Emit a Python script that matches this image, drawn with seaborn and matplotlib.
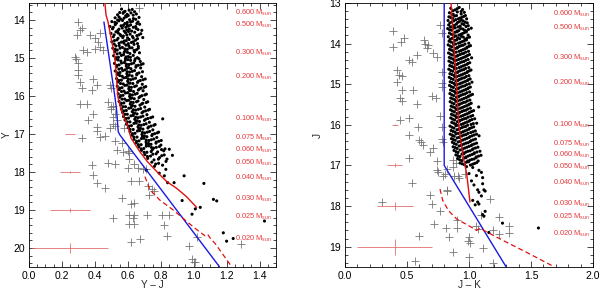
import matplotlib
matplotlib.use("Agg")
import matplotlib.pyplot as plt
import seaborn as sns
import pandas as pd
from matplotlib.ticker import MultipleLocator

sns.set_style("white")
plt.rcParams['font.family'] = ['Liberation Sans', 'DejaVu Sans']
plt.rcParams['mathtext.fontset'] = 'custom'
plt.rcParams['mathtext.rm'] = 'Liberation Sans'
plt.rcParams['mathtext.it'] = 'Liberation Sans'

# ---------------- Left panel (Y vs Y-J) ----------------
yj_dots = [
 (0.562,13.71),(0.608,13.74),(0.641,13.78),(0.583,13.77),(0.627,13.72),
 (0.538,13.86),(0.571,13.82),(0.603,13.88),(0.652,13.84),(0.619,13.81),(0.587,13.89),
 (0.523,13.94),(0.556,13.97),(0.592,13.91),(0.634,13.96),(0.668,13.93),(0.611,13.99),(0.547,13.92),
 (0.503,14.04),(0.531,14.08),(0.568,14.01),(0.597,14.06),(0.629,14.03),(0.655,14.09),(0.582,14.09),(0.546,14.02),
 (0.492,14.17),(0.524,14.12),(0.559,14.15),(0.588,14.19),(0.617,14.13),(0.648,14.17),(0.672,14.11),(0.603,14.16),
 (0.507,14.23),(0.539,14.28),(0.566,14.21),(0.594,14.26),(0.623,14.29),(0.651,14.22),(0.685,14.27),(0.578,14.29),
 (0.498,14.35),(0.528,14.31),(0.553,14.38),(0.586,14.33),(0.614,14.37),(0.642,14.32),(0.667,14.39),(0.604,14.30),
 (0.512,14.44),(0.541,14.48),(0.573,14.42),(0.599,14.47),(0.628,14.43),(0.659,14.49),(0.691,14.46),(0.558,14.41),
 (0.503,14.57),(0.534,14.52),(0.562,14.58),(0.591,14.54),(0.622,14.59),(0.647,14.53),(0.608,14.51),
 (0.517,14.63),(0.548,14.67),(0.577,14.61),(0.606,14.68),(0.638,14.64),(0.664,14.69),(0.589,14.66),
 (0.509,14.74),(0.536,14.79),(0.567,14.72),(0.597,14.77),(0.626,14.73),(0.653,14.78),(0.582,14.76),
 (0.521,14.83),(0.552,14.87),(0.584,14.81),(0.613,14.88),(0.641,14.84),(0.671,14.86),(0.598,14.85),
 (0.514,14.94),(0.543,14.98),(0.574,14.91),(0.603,14.96),(0.633,14.93),(0.658,14.99),(0.589,14.97),
 (0.527,15.03),(0.558,15.08),(0.586,15.01),(0.617,15.06),(0.645,15.02),(0.676,15.09),(0.601,15.04),
 (0.519,15.14),(0.547,15.18),(0.579,15.12),(0.607,15.17),(0.636,15.13),(0.664,15.19),(0.693,15.15),(0.592,15.16),
 (0.531,15.23),(0.562,15.27),(0.591,15.21),(0.619,15.28),(0.649,15.24),(0.678,15.26),(0.605,15.25),
 (0.524,15.34),(0.553,15.38),(0.583,15.31),(0.612,15.37),(0.641,15.33),(0.668,15.39),(0.597,15.36),
 (0.537,15.43),(0.566,15.48),(0.594,15.41),(0.626,15.47),(0.654,15.44),(0.684,15.49),(0.609,15.45),
 (0.532,15.54),(0.561,15.58),(0.589,15.51),(0.618,15.57),(0.647,15.53),(0.676,15.59),(0.706,15.55),(0.603,15.55),
 (0.541,15.63),(0.572,15.68),(0.599,15.61),(0.631,15.67),(0.659,15.64),(0.688,15.69),(0.614,15.66),
 (0.536,15.74),(0.565,15.78),(0.594,15.71),(0.622,15.77),(0.652,15.73),(0.681,15.79),(0.709,15.75),(0.608,15.76),
 (0.548,15.83),(0.577,15.87),(0.606,15.81),(0.635,15.88),(0.664,15.84),(0.693,15.86),(0.619,15.85),
 (0.542,15.94),(0.571,15.98),(0.599,15.91),(0.628,15.97),(0.657,15.93),(0.686,15.99),(0.713,15.95),(0.613,15.96),
 (0.551,16.03),(0.581,16.08),(0.611,16.01),(0.639,16.07),(0.668,16.04),(0.697,16.09),(0.624,16.05),
 (0.547,16.14),(0.576,16.18),(0.604,16.11),(0.633,16.17),(0.662,16.13),(0.691,16.19),(0.721,16.15),(0.618,16.16),
 (0.556,16.23),(0.586,16.28),(0.615,16.21),(0.644,16.27),(0.674,16.24),(0.703,16.29),(0.629,16.25),
 (0.561,16.34),(0.591,16.38),(0.619,16.31),(0.648,16.37),(0.678,16.33),(0.708,16.39),(0.732,16.35),(0.634,16.36),
 (0.568,16.43),(0.597,16.48),(0.627,16.41),(0.656,16.47),(0.686,16.44),(0.716,16.49),(0.641,16.45),
 (0.574,16.54),(0.604,16.58),(0.633,16.51),(0.663,16.57),(0.692,16.53),(0.722,16.59),(0.751,16.55),(0.648,16.56),(0.812,16.60),
 (0.583,16.63),(0.613,16.68),(0.642,16.61),(0.671,16.67),(0.701,16.64),(0.731,16.69),(0.657,16.65),
 (0.592,16.74),(0.622,16.78),(0.651,16.71),(0.681,16.77),(0.711,16.73),(0.741,16.79),(0.766,16.75),(0.667,16.76),
 (0.603,16.83),(0.633,16.88),(0.662,16.81),(0.692,16.87),(0.722,16.84),(0.752,16.89),(0.677,16.85),
 (0.614,16.94),(0.644,16.98),(0.673,16.91),(0.703,16.97),(0.733,16.93),(0.763,16.99),(0.787,16.95),(0.689,16.96),
 (0.626,17.03),(0.656,17.08),(0.686,17.01),(0.716,17.07),(0.746,17.04),(0.776,17.09),(0.701,17.05),
 (0.638,17.14),(0.668,17.18),(0.698,17.11),(0.728,17.17),(0.758,17.13),(0.788,17.19),(0.712,17.16),
 (0.651,17.23),(0.681,17.28),(0.711,17.21),(0.741,17.27),(0.771,17.24),(0.801,17.29),(0.726,17.25),
 (0.667,17.34),(0.697,17.38),(0.727,17.31),(0.757,17.37),(0.792,17.33),(0.826,17.39),(0.743,17.35),
 (0.683,17.43),(0.716,17.48),(0.749,17.41),(0.781,17.47),(0.818,17.44),(0.852,17.40),
 (0.703,17.54),(0.738,17.58),(0.772,17.52),(0.806,17.57),(0.871,17.56),
 (0.721,17.64),(0.759,17.68),(0.793,17.62),(0.838,17.66),
 (0.746,17.74),(0.787,17.77),(0.832,17.72),
 (0.712,17.95),(0.791,18.03),(0.831,17.93),(0.762,17.85),(0.842,18.28),(0.881,18.28),(0.942,18.10),(1.062,18.30),(0.822,18.10),
 (0.93,18.75),(0.99,19.11),(1.01,18.97),(1.04,18.93),(1.12,18.72),(1.14,18.76),(1.18,19.60),(1.20,19.82),(1.24,19.75),(1.43,19.29),
]
yj_dots_fill = [
 (0.575,13.79),(0.596,13.85),(0.633,13.87),(0.551,13.80),
 (0.538,14.00),(0.577,13.95),(0.617,14.05),(0.648,13.98),(0.521,14.06),(0.662,14.05),
 (0.512,14.19),(0.546,14.24),(0.573,14.14),(0.609,14.24),(0.634,14.19),(0.662,14.25),(0.596,14.12),
 (0.517,14.39),(0.542,14.34),(0.569,14.46),(0.594,14.39),(0.633,14.47),(0.655,14.41),(0.679,14.36),
 (0.519,14.54),(0.547,14.61),(0.578,14.55),(0.603,14.62),(0.634,14.57),(0.659,14.62),(0.528,14.68),
 (0.524,14.77),(0.553,14.74),(0.578,14.85),(0.612,14.73),(0.638,14.80),(0.664,14.74),(0.535,14.89),
 (0.529,14.99),(0.561,14.93),(0.585,15.06),(0.616,14.98),(0.642,15.07),(0.668,15.02),(0.541,15.05),
 (0.533,15.19),(0.562,15.13),(0.595,15.27),(0.622,15.15),(0.651,15.20),(0.681,15.17),(0.546,15.29),
 (0.538,15.39),(0.569,15.33),(0.598,15.47),(0.627,15.35),(0.656,15.41),(0.689,15.36),(0.551,15.46),
 (0.546,15.59),(0.575,15.52),(0.606,15.66),(0.633,15.55),(0.664,15.61),(0.693,15.57),(0.556,15.67),
 (0.551,15.79),(0.582,15.72),(0.611,15.86),(0.641,15.75),(0.671,15.81),(0.699,15.77),(0.562,15.88),
 (0.557,15.99),(0.586,15.92),(0.617,16.06),(0.645,15.95),(0.676,16.01),(0.704,15.97),(0.565,16.08),
 (0.562,16.19),(0.593,16.12),(0.623,16.26),(0.653,16.15),(0.684,16.21),(0.712,16.17),(0.571,16.28),
 (0.576,16.39),(0.606,16.32),(0.636,16.46),(0.664,16.35),(0.694,16.41),(0.724,16.37),(0.583,16.48),
 (0.589,16.59),(0.619,16.52),(0.649,16.66),(0.678,16.55),(0.709,16.61),(0.739,16.57),(0.597,16.68),
 (0.607,16.79),(0.637,16.72),(0.667,16.86),(0.697,16.75),(0.727,16.81),(0.758,16.77),(0.614,16.88),
 (0.629,16.99),(0.659,16.92),(0.689,17.06),(0.719,16.95),(0.749,17.01),(0.779,16.97),(0.637,17.08),
 (0.653,17.19),(0.683,17.12),(0.713,17.26),(0.743,17.15),(0.773,17.21),(0.803,17.17),(0.664,17.28),
 (0.681,17.39),(0.712,17.32),(0.742,17.46),(0.773,17.35),(0.805,17.41),(0.699,17.48),
 (0.719,17.59),(0.752,17.53),(0.786,17.66),(0.821,17.55),
 (0.769,17.79),(0.811,17.82),
]
yj_crosses = [
 (0.30,14.05),(0.31,14.27),(0.32,14.21),(0.29,14.40),(0.37,14.38),(0.43,14.35),(0.40,14.48),(0.42,14.57),(0.325,14.80),(0.35,14.84),
 (0.40,14.75),(0.43,14.71),(0.45,14.80),(0.28,14.98),(0.285,15.02),(0.30,15.12),(0.30,15.31),(0.30,15.44),(0.31,15.64),(0.39,15.54),
 (0.41,15.70),(0.32,15.79),(0.38,15.85),(0.49,15.70),(0.50,15.79),(0.67,13.67),(0.51,16.27),(0.50,16.35),(0.525,16.47),(0.31,16.20),
 (0.35,16.20),(0.48,16.15),(0.50,16.30),(0.39,16.47),
 (0.535,16.62),(0.51,16.74),(0.575,16.84),(0.49,16.84),(0.36,16.62),(0.41,16.82),(0.415,16.91),(0.32,17.11),(0.43,17.08),(0.46,17.05),
 (0.51,16.54),(0.52,16.80),(0.525,17.18),(0.565,17.23),(0.535,17.42),(0.57,17.47),(0.61,17.49),(0.60,17.44),
 (0.61,17.66),(0.64,17.78),(0.695,17.92),(0.60,17.89),(0.66,17.89),(0.48,17.75),(0.52,17.78),(0.38,17.81),(0.39,18.09),(0.41,18.30),
 (0.46,18.41),(0.62,18.24),(0.67,18.24),(0.725,18.37),(0.745,18.45),(0.76,18.49),(0.71,17.91),
 (0.73,18.60),(0.565,18.69),(0.62,18.83),(0.64,18.82),(0.51,19.20),(0.61,19.12),(0.635,19.14),(0.63,19.20),(0.715,19.12),(0.81,19.12),
 (0.85,19.12),(0.61,19.38),(0.64,19.38),(0.82,19.40),(0.84,19.69),(0.675,19.76),(0.62,19.85),(0.97,19.95),(0.99,20.30),(1.00,20.37),
 (1.01,20.38),(1.29,19.90),(1.02,19.70),
]
yj_red_x = [0.461, 0.468, 0.48, 0.522, 0.54, 0.56, 0.60, 0.62, 0.674, 0.72, 0.785, 0.836, 0.897, 0.957, 1.018]
yj_red_y = [13.55, 13.87, 14.05, 15.0, 16.03, 16.37, 16.8, 17.11, 17.47, 17.73, 18.03, 18.25, 18.43, 18.65, 18.93]
yj_dash_x = [0.704, 0.735, 0.795, 0.876, 0.947, 1.008, 1.069, 1.085, 1.10, 1.13, 1.232]
yj_dash_y = [18.12, 18.47, 18.74, 19.0, 19.26, 19.48, 19.68, 19.64, 19.74, 19.88, 20.5]
yj_blue_x = [0.455, 0.522, 0.532, 0.542, 0.553, 1.156]
yj_blue_y = [14.05, 16.03, 16.37, 16.94, 17.03, 20.49]
yj_err_x = [0.25, 0.25, 0.25, 0.25]
yj_err_y = [17.0, 18.0, 19.0, 20.0]
yj_err_dx = [0.03, 0.06, 0.12, 0.23]
yj_err_dy = [0.01, 0.03, 0.06, 0.14]
mass_labels = ["0.600", "0.500", "0.300", "0.200", "0.100", "0.075", "0.060",
               "0.050", "0.040", "0.030", "0.025", "0.020"]
yj_label_y = [13.82, 14.13, 14.87, 15.50, 16.60, 17.10, 17.42, 17.76, 18.16, 18.71, 19.18, 19.76]

# ---------------- Right panel (J vs J-K) ----------------
jk_dots = [
 (0.853,13.13),(0.889,13.17),(0.921,13.11),(0.948,13.16),
 (0.842,13.24),(0.873,13.28),(0.906,13.22),(0.937,13.27),(0.962,13.23),
 (0.838,13.34),(0.868,13.38),(0.899,13.31),(0.929,13.37),(0.958,13.33),(0.981,13.39),
 (0.831,13.43),(0.861,13.47),(0.893,13.41),(0.922,13.46),(0.952,13.44),(0.986,13.49),
 (0.836,13.54),(0.867,13.58),(0.898,13.52),(0.929,13.57),(0.959,13.53),(0.994,13.56),
 (0.828,13.63),(0.859,13.67),(0.889,13.61),(0.918,13.68),(0.949,13.64),(0.978,13.69),(1.018,13.62),
 (0.842,13.74),(0.873,13.78),(0.904,13.71),(0.934,13.77),(0.963,13.73),(0.993,13.79),
 (0.833,13.83),(0.864,13.87),(0.894,13.81),(0.925,13.88),(0.954,13.84),(0.986,13.86),
 (0.839,13.94),(0.871,13.98),(0.901,13.91),(0.931,13.97),(0.961,13.93),(0.998,13.99),
 (0.832,14.03),(0.862,14.08),(0.892,14.01),(0.922,14.07),(0.953,14.04),(0.984,14.09),(1.012,14.05),
 (0.843,14.14),(0.874,14.18),(0.905,14.11),(0.936,14.17),(0.966,14.13),(0.996,14.19),
 (0.835,14.23),(0.866,14.28),(0.897,14.21),(0.927,14.27),(0.957,14.24),(0.989,14.29),
 (0.841,14.34),(0.872,14.38),(0.902,14.31),(0.933,14.37),(0.964,14.33),(0.993,14.39),(1.021,14.35),
 (0.838,14.43),(0.869,14.48),(0.899,14.41),(0.929,14.47),(0.959,14.44),(0.991,14.49),
 (0.845,14.54),(0.876,14.58),(0.906,14.51),(0.936,14.57),(0.967,14.53),(0.998,14.59),
 (0.837,14.63),(0.868,14.68),(0.898,14.61),(0.928,14.67),(0.958,14.64),(0.988,14.69),(1.016,14.65),
 (0.846,14.74),(0.877,14.78),(0.907,14.71),(0.938,14.77),(0.969,14.73),(0.999,14.79),
 (0.841,14.83),(0.872,14.88),(0.903,14.81),(0.933,14.87),(0.963,14.84),(0.994,14.89),
 (0.848,14.94),(0.879,14.98),(0.909,14.91),(0.939,14.97),(0.971,14.93),(1.002,14.99),(1.024,14.95),
 (0.843,15.03),(0.874,15.08),(0.904,15.01),(0.935,15.07),(0.966,15.04),(0.996,15.09),
 (0.851,15.14),(0.882,15.18),(0.912,15.11),(0.943,15.17),(0.974,15.13),(1.005,15.19),
 (0.846,15.23),(0.877,15.28),(0.908,15.21),(0.938,15.27),(0.968,15.24),(0.999,15.29),(1.028,15.25),
 (0.853,15.34),(0.884,15.38),(0.914,15.31),(0.945,15.37),(0.976,15.33),(1.007,15.39),
 (0.848,15.43),(0.879,15.48),(0.909,15.41),(0.941,15.47),(0.972,15.44),(1.003,15.49),
 (0.856,15.54),(0.887,15.58),(0.917,15.51),(0.948,15.57),(0.979,15.53),(1.011,15.59),(1.078,15.56),
 (0.851,15.63),(0.882,15.68),(0.913,15.61),(0.944,15.67),(0.975,15.64),(1.006,15.69),(1.037,15.65),
 (0.858,15.74),(0.889,15.78),(0.919,15.71),(0.951,15.77),(0.982,15.73),(1.014,15.79),
 (0.853,15.83),(0.884,15.88),(0.915,15.81),(0.946,15.87),(0.977,15.84),(1.009,15.89),(1.046,15.85),
 (0.861,15.94),(0.892,15.98),(0.923,15.91),(0.954,15.97),(0.985,15.93),(1.017,15.99),(1.062,15.96),
 (0.847,16.03),(0.879,16.08),(0.911,16.01),(0.942,16.07),(0.973,16.04),(1.005,16.09),(1.038,16.05),
 (0.856,16.14),(0.887,16.18),(0.919,16.11),(0.951,16.17),(0.982,16.13),(1.014,16.19),(1.051,16.15),
 (0.849,16.23),(0.881,16.28),(0.913,16.21),(0.945,16.27),(0.976,16.24),(1.008,16.29),(1.042,16.25),(1.081,16.27),
 (0.858,16.34),(0.889,16.38),(0.921,16.31),(0.953,16.37),(0.985,16.33),(1.017,16.39),(1.052,16.35),
 (0.866,16.43),(0.897,16.48),(0.929,16.41),(0.961,16.47),(0.993,16.44),(1.026,16.49),(1.061,16.45),
 (0.872,16.54),(0.904,16.58),(0.936,16.51),(0.968,16.57),(1.001,16.53),(1.034,16.59),(1.072,16.55),
 (0.879,16.63),(0.911,16.68),(0.943,16.61),(0.976,16.67),(1.009,16.64),(1.043,16.69),(1.088,16.65),
 (0.894,16.74),(0.927,16.78),(0.959,16.71),(0.992,16.77),(1.025,16.73),(1.058,16.79),(1.097,16.75),
 (0.908,16.83),(0.942,16.88),(0.975,16.81),(1.008,16.87),(1.041,16.84),(1.074,16.89),
 (0.928,16.94),(0.963,16.98),(0.996,16.91),(1.029,16.97),(1.062,16.93),
 (0.98,17.03),(1.03,17.05),(1.10,17.17),(1.11,17.30),(1.00,17.20),(1.06,17.25),(1.11,17.45),(1.02,17.38),(1.04,17.48),(1.08,17.12),
 (1.07,17.60),(1.12,17.60),(1.08,17.66),(1.13,17.63),(1.03,17.86),(1.07,17.90),(1.08,17.95),(1.05,17.97),(1.13,18.13),(1.11,18.21),
 (1.12,18.25),(1.10,17.75),
 (1.27,18.42),(1.16,18.65),(1.56,18.54),
]
jk_dots_fill = [
 (0.871,13.19),(0.905,13.14),(0.936,13.21),(0.862,13.29),
 (0.853,13.36),(0.884,13.32),(0.914,13.39),(0.944,13.35),(0.971,13.31),
 (0.846,13.49),(0.877,13.44),(0.908,13.48),(0.937,13.42),(0.968,13.47),
 (0.851,13.59),(0.882,13.55),(0.913,13.59),(0.944,13.51),(0.976,13.58),
 (0.843,13.66),(0.874,13.62),(0.904,13.69),(0.933,13.63),(0.964,13.67),(0.996,13.65),
 (0.857,13.77),(0.888,13.72),(0.919,13.79),(0.948,13.75),(0.978,13.71),
 (0.848,13.89),(0.879,13.83),(0.909,13.86),(0.939,13.82),(0.970,13.89),(1.004,13.84),
 (0.854,13.96),(0.886,13.92),(0.916,13.99),(0.946,13.95),(0.979,13.91),
 (0.847,14.06),(0.877,14.02),(0.907,14.09),(0.937,14.05),(0.968,14.01),(0.998,14.07),
 (0.858,14.16),(0.889,14.12),(0.920,14.19),(0.951,14.15),(0.981,14.11),
 (0.850,14.26),(0.881,14.22),(0.912,14.29),(0.942,14.25),(0.973,14.21),(1.004,14.27),
 (0.856,14.36),(0.887,14.32),(0.917,14.39),(0.948,14.35),(0.979,14.31),
 (0.853,14.46),(0.884,14.42),(0.914,14.49),(0.944,14.45),(0.975,14.41),(1.006,14.47),
 (0.860,14.56),(0.891,14.52),(0.921,14.59),(0.952,14.55),(0.983,14.51),
 (0.852,14.66),(0.883,14.62),(0.913,14.69),(0.943,14.65),(0.973,14.61),(1.003,14.67),
 (0.861,14.76),(0.892,14.72),(0.922,14.79),(0.953,14.75),(0.984,14.71),
 (0.856,14.86),(0.887,14.82),(0.918,14.89),(0.948,14.85),(0.978,14.81),(1.009,14.87),
 (0.863,14.96),(0.894,14.92),(0.924,14.99),(0.955,14.95),(0.987,14.91),
 (0.858,15.06),(0.889,15.02),(0.919,15.09),(0.950,15.05),(0.981,15.01),(1.011,15.07),
 (0.866,15.16),(0.897,15.12),(0.927,15.19),(0.958,15.15),(0.989,15.11),
 (0.861,15.26),(0.892,15.22),(0.923,15.29),(0.953,15.25),(0.983,15.21),(1.014,15.27),
 (0.868,15.36),(0.899,15.32),(0.929,15.39),(0.960,15.35),(0.991,15.31),
 (0.863,15.46),(0.894,15.42),(0.925,15.49),(0.956,15.45),(0.987,15.41),(1.018,15.47),
 (0.871,15.56),(0.902,15.52),(0.932,15.59),(0.963,15.55),(0.995,15.51),
 (0.866,15.66),(0.897,15.62),(0.928,15.69),(0.959,15.65),(0.990,15.61),(1.021,15.67),
 (0.873,15.76),(0.904,15.72),(0.935,15.79),(0.966,15.75),(0.998,15.71),(1.030,15.77),
 (0.868,15.86),(0.899,15.82),(0.930,15.89),(0.961,15.85),(0.993,15.81),(1.025,15.87),
 (0.876,15.96),(0.907,15.92),(0.938,15.99),(0.969,15.95),(1.001,15.91),(1.035,15.97),
 (0.863,16.06),(0.895,16.02),(0.926,16.09),(0.957,16.05),(0.989,16.01),(1.021,16.07),
 (0.871,16.16),(0.903,16.12),(0.935,16.19),(0.966,16.15),(0.998,16.11),(1.032,16.17),
 (0.865,16.26),(0.897,16.22),(0.929,16.29),(0.960,16.25),(0.992,16.21),(1.025,16.27),(1.061,16.23),
 (0.873,16.36),(0.905,16.32),(0.937,16.39),(0.969,16.35),(1.001,16.31),(1.034,16.37),
 (0.881,16.46),(0.913,16.42),(0.945,16.49),(0.977,16.45),(1.009,16.41),(1.043,16.47),
 (0.888,16.56),(0.920,16.52),(0.952,16.59),(0.984,16.55),(1.017,16.51),(1.052,16.57),
 (0.895,16.66),(0.927,16.62),(0.959,16.69),(0.992,16.65),(1.026,16.61),(1.064,16.67),
 (0.910,16.76),(0.943,16.72),(0.975,16.79),(1.008,16.75),(1.041,16.71),(1.077,16.77),
 (0.925,16.86),(0.958,16.82),(0.991,16.89),(1.024,16.85),(1.057,16.81),
 (0.945,16.96),(0.979,16.92),(1.012,16.99),(1.045,16.95),
]
jk_crosses = [
 (0.385,13.69),(0.39,14.08),(0.45,13.96),(0.476,13.87),(0.52,14.41),(0.54,14.45),(0.58,14.28),(0.64,13.90),(0.645,14.00),(0.67,14.04),
 (0.66,14.12),(0.71,14.24),(0.74,14.34),(0.77,13.54),(0.78,13.75),(0.42,14.65),(0.435,14.78),(0.46,14.80),(0.42,14.94),(0.46,15.13),
 (0.55,15.13),(0.44,15.33),(0.46,15.41),(0.58,15.48),(0.70,15.30),(0.73,15.35),(0.78,15.07),(0.78,14.70),(0.78,14.97),(0.52,15.82),
 (0.44,15.89),(0.59,16.05),(0.52,16.26),(0.60,16.38),(0.71,16.57),(0.77,15.77),(0.78,16.05),(0.78,16.34),
 (0.61,16.42),(0.625,16.50),(0.685,16.67),(0.79,16.42),(0.86,16.22),(0.52,16.81),(0.74,16.88),(0.75,17.17),(0.79,17.25),(0.87,16.86),
 (0.87,17.04),(0.895,16.94),(0.91,17.25),(0.92,17.30),(0.97,17.20),(0.54,17.44),(0.685,17.72),(0.825,17.62),(0.30,17.90),(0.70,17.96),
 (0.77,18.13),(0.72,18.44),(0.815,18.54),(0.905,18.54),(0.60,18.73),(0.84,18.75),(1.00,18.77),(1.01,18.92),(1.00,19.25),(1.11,19.02),
 (0.87,19.14),(0.565,19.35),(1.19,19.41),(1.245,18.26),(1.325,18.50),(1.325,18.66),(1.195,18.59),(1.06,18.48),(1.24,18.69),(1.17,17.82),
 (0.74,17.10),(0.82,17.08),(0.81,17.20),(0.88,17.27),(0.82,17.60),(0.90,18.34),(0.99,18.85),(1.10,18.23),(1.075,18.56),
]
jk_red_x = [0.855, 0.90, 0.914, 0.933, 0.954, 0.981, 1.008]
jk_red_y = [13.0, 15.0, 15.89, 16.38, 16.8, 17.2, 17.9]
jk_dash_x = [0.766, 0.788, 0.834, 0.901, 1.008, 1.062, 1.089, 1.12, 1.277, 1.465, 1.69]
jk_dash_y = [17.58, 17.86, 18.11, 18.32, 18.5, 18.6, 18.54, 18.6, 18.85, 19.14, 19.5]
jk_blue_x = [0.80, 0.80, 1.30]
jk_blue_y = [13.0, 17.0, 19.5]
jk_err_x = [0.4, 0.4, 0.4, 0.4]
jk_err_y = [16.0, 17.0, 18.0, 19.0]
jk_err_dx = [0.025, 0.06, 0.145, 0.30]
jk_err_dy = [0.01, 0.05, 0.10, 0.20]
jk_label_y = [13.27, 13.62, 14.34, 14.96, 16.00, 16.47, 16.75, 17.04, 17.42, 17.94, 18.26, 18.69]

RED = "#e01010"
BLUE = "#1a1ae0"
LABEL_RED = "#e8383c"
ERR_RED = "#e07070"
GRAY = "#777777"

fig = plt.figure(figsize=(6.0, 2.91), dpi=100)
axL = fig.add_axes([29/600, 1-267/291, 247/600, 264/291])
axR = fig.add_axes([345/600, 1-267/291, 248/600, 264/291])


def draw_panel(ax, dots, crosses, red, dash, blue, err, label_x, label_y,
               xlim, ylim, xmaj, xmin, xlabel, ylabel, ylab_x):
    ddf = pd.DataFrame(dots, columns=["c", "m"])
    cdf = pd.DataFrame(crosses, columns=["c", "m"])
    sns.scatterplot(data=cdf, x="c", y="m", marker="+", s=30, color=GRAY,
                    linewidth=0.6, ax=ax, zorder=2)
    sns.scatterplot(data=ddf, x="c", y="m", marker="o", s=5, color="black",
                    edgecolor="none", linewidth=0, ax=ax, zorder=3)
    sns.lineplot(x=blue[0], y=blue[1], sort=False, estimator=None, color=BLUE,
                 lw=1.0, ax=ax, zorder=4)
    sns.lineplot(x=red[0], y=red[1], sort=False, estimator=None, color=RED,
                 lw=1.0, ax=ax, zorder=5)
    sns.lineplot(x=dash[0], y=dash[1], sort=False, estimator=None, color=RED,
                 lw=0.9, ax=ax, zorder=5, linestyle=(0, (4, 2.5)))
    ax.errorbar(err[0], err[1], xerr=err[2], yerr=err[3], fmt="none",
                ecolor=ERR_RED, elinewidth=0.6, capsize=0, zorder=4)
    for lab, yy in zip(mass_labels, label_y):
        ax.text(label_x, yy, lab + r" M$_{\mathregular{sun}}$", color=LABEL_RED,
                fontsize=5.3, va="center", ha="left", zorder=6)
    ax.set_xlim(*xlim)
    ax.set_ylim(*ylim)
    ax.xaxis.set_major_locator(MultipleLocator(xmaj))
    ax.xaxis.set_minor_locator(MultipleLocator(xmin))
    ax.yaxis.set_major_locator(MultipleLocator(1))
    ax.yaxis.set_minor_locator(MultipleLocator(0.2))
    ax.tick_params(which="both", direction="in", top=True, right=True,
                   bottom=True, left=True, width=0.5, colors="black",
                   labelsize=7.5)
    ax.tick_params(which="major", length=4.5, pad=3)
    ax.tick_params(which="minor", length=2.2)
    for sp in ax.spines.values():
        sp.set_linewidth(0.6)
        sp.set_color("black")
    ax.set_xlabel(xlabel, fontsize=7.2)
    ax.set_ylabel(ylabel, fontsize=7.2)
    ax.xaxis.label.set_va("center")
    ax.yaxis.label.set_va("center")
    ax.xaxis.set_label_coords(0.5, -0.068)
    ax.yaxis.set_label_coords(ylab_x, 0.5)


draw_panel(axL, yj_dots + yj_dots_fill, yj_crosses, (yj_red_x, yj_red_y),
           (yj_dash_x, yj_dash_y), (yj_blue_x, yj_blue_y),
           (yj_err_x, yj_err_y, yj_err_dx, yj_err_dy),
           1.25, yj_label_y, (0.0, 1.5), (20.5, 13.55), 0.2, 0.05, "Y – J", "Y", -0.088)
draw_panel(axR, jk_dots + jk_dots_fill, jk_crosses, (jk_red_x, jk_red_y),
           (jk_dash_x, jk_dash_y), (jk_blue_x, jk_blue_y),
           (jk_err_x, jk_err_y, jk_err_dx, jk_err_dy),
           1.68, jk_label_y, (0.0, 2.0), (19.5, 13.0), 0.5, 0.1, "J – K", "J", -0.108)

fig.savefig("out.png", dpi=100)
